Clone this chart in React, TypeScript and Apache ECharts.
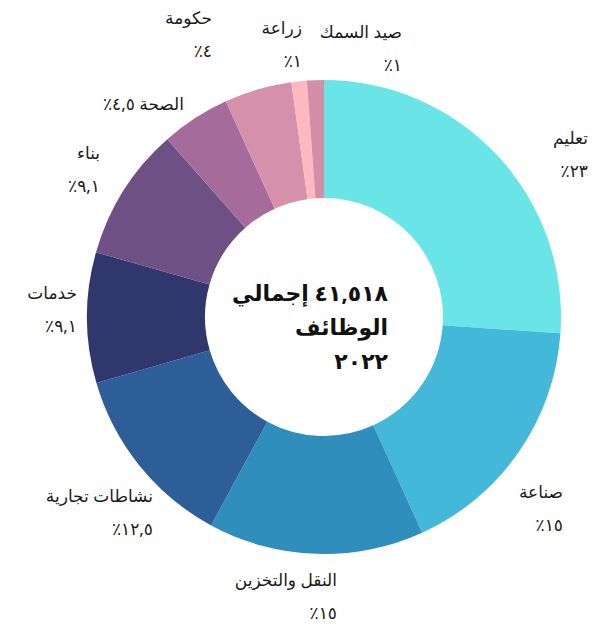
import React, { useEffect, useRef } from "react";
import * as echarts from "echarts";

// ---- data ----
const categories = [
  "تعليم",
  "صناعة",
  "النقل والتخزين",
  "نشاطات تجارية",
  "خدمات",
  "بناء",
  "الصحة",
  "حكومة",
  "زراعة",
  "صيد السمك",
];
// slice shares (angles)
const shares = [26.1, 17.1, 14.7, 12.6, 8.9, 9.1, 4.7, 4.6, 1.05, 1.15];
// percentage texts printed on the chart
const percentLabels = ["٢٣٪", "١٥٪", "١٥٪", "١٢,٥٪", "٩,١٪", "٩,١٪", "٤,٥٪", "٤٪", "١٪", "١٪"];
const totalJobs = "٤١,٥١٨";
const centerWords = ["إجمالي", "الوظائف", "٢٠٢٢"];

// ---- styles / layout ----
const colors = [
  "#69E5E8",
  "#43B8D8",
  "#2F8EBC",
  "#2D5E98",
  "#2F376D",
  "#6E5184",
  "#A56B9A",
  "#D591AB",
  "#FEB9BF",
  "#D48FA8",
];
const CX = 324;
const CY = 317;
const R_IN = 119;
const R_OUT = 237;
// label anchor (right edge, vertical middle) relative to the pie centre
const LABEL_ANCHORS: [number, number][] = [
  [264, -163],
  [239, 191],
  [13, 279],
  [-171, 195],
  [-247, -8],
  [-224, -148],
  [-140, -214],
  [-112, -283],
  [-22, -273],
  [78, -269],
];
const SINGLE_LINE = new Set([6]);
const FONT = "'Noto Sans', 'DejaVu Sans', sans-serif";
const RLI = "\u2067";
const PDI = "\u2069";
const rtl = (s: string) => RLI + s + PDI;

export default function App() {
  const ref = useRef<HTMLDivElement>(null);
  useEffect(() => {
    if (!ref.current) return;
    const chart = echarts.init(ref.current, undefined, { renderer: "svg" });
    chart.setOption({
      animation: false,
      backgroundColor: "#ffffff",
      series: [
        {
          type: "pie",
          center: [CX, CY],
          radius: [R_IN, R_OUT],
          startAngle: 90,
          clockwise: true,
          avoidLabelOverlap: false,
          silent: true,
          data: categories.map((name, i) => ({
            name,
            value: shares[i],
            itemStyle: { color: colors[i] },
          })),
          label: {
            show: true,
            position: "outside",
            fontFamily: FONT,
            color: "#1a1a1a",
            formatter: (p: any) => {
              const i = p.dataIndex;
              if (SINGLE_LINE.has(i)) {
                return "{n|" + rtl(categories[i] + " " + percentLabels[i]) + "}";
              }
              return "{n|" + rtl(categories[i]) + "}\n{p|" + rtl(percentLabels[i]) + "}";
            },
            rich: {
              n: { fontSize: 17, lineHeight: 33, align: "right", fontFamily: FONT, color: "#1a1a1a" },
              p: { fontSize: 17, lineHeight: 33, align: "right", fontFamily: FONT, color: "#1a1a1a" },
            },
          },
          labelLine: { show: false },
          labelLayout: (params: any) => {
            const a = LABEL_ANCHORS[params.dataIndex];
            return { x: CX + a[0], y: CY + a[1], align: "right", verticalAlign: "middle" };
          },
          emphasis: { disabled: true },
        },
      ],
      graphic: [
        {
          type: "text",
          x: 388,
          y: 326,
          silent: true,
          style: {
            text: [rtl(totalJobs + " " + centerWords[0]), rtl(centerWords[1]), rtl(centerWords[2])].join("\n"),
            font: "bold 22px " + FONT,
            fill: "#111111",
            align: "right",
            verticalAlign: "middle",
            lineHeight: 34,
          },
        },
      ],
    });
    return () => chart.dispose();
  }, []);
  return (
    <div
      ref={ref}
      style={{ position: "absolute", left: 0, top: 0, width: 605, height: 624 }}
    />
  );
}
